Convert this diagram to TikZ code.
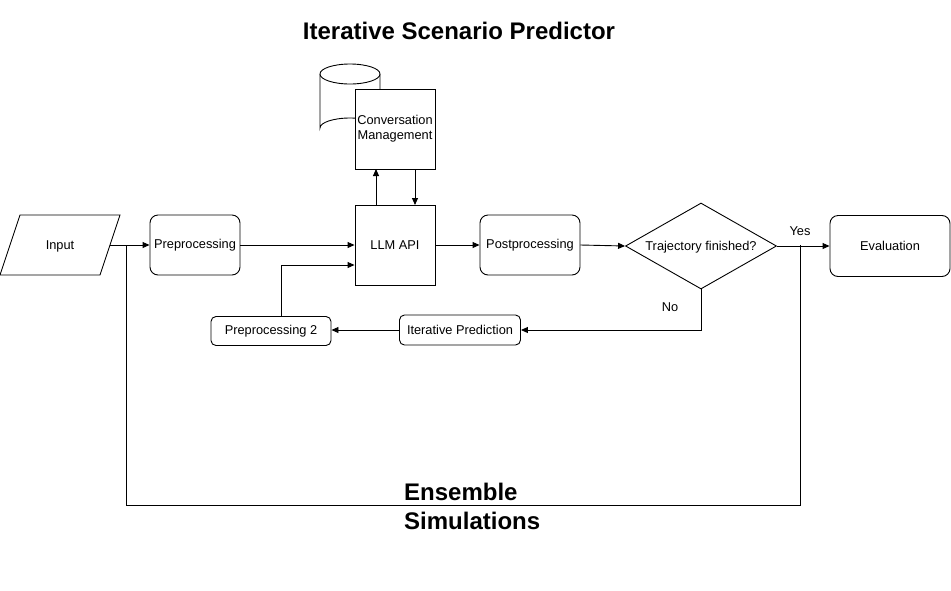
\documentclass[tikz,border=0pt]{standalone}
\usepackage{fontspec}
\setmainfont{Liberation Sans}
\usetikzlibrary{arrows.meta,shapes.geometric}
\begin{document}
\begin{tikzpicture}[x=1pt,y=-1pt,
  every node/.style={font=\fontsize{12.8}{15}\selectfont},
  box/.style={draw,line width=0.9pt,inner sep=0pt,align=center},
  rbox/.style={box,rounded corners=8pt},
  conn/.style={line width=0.9pt,-{Triangle[length=7pt,width=6pt]}},
  plain/.style={line width=0.9pt},
  big/.style={font=\fontsize{24}{29}\selectfont\bfseries}]
\useasboundingbox[fill=white] (0,0) rectangle (951,590);
\node[big] (title) at (459,31) {Iterative Scenario Predictor};
% input parallelogram
\draw[plain] (20,215) -- (120,215) -- (100,275) -- (0,275) -- cycle;
\node (input) at (60,246) {Input};
\coordinate (inR) at (110,245);
\node[rbox,minimum width=90pt,minimum height=60pt] (pre) at (195,245) {Preprocessing};
\node[box,minimum width=80pt,minimum height=80pt] (llm) at (395,245) {LLM API};
% cylinder
\draw[plain,fill=white] (320,74) -- (320,128) arc[start angle=180,end angle=360,x radius=30,y radius=10] -- (380,74);
\draw[plain,fill=white] (350,74) ellipse[x radius=30,y radius=10];
\node[box,fill=white,minimum width=80pt,minimum height=80pt] (conv) at (395,129) {Conversation\\Management};
\node[rbox,minimum width=100pt,minimum height=60pt] (post) at (530,245) {Postprocessing};
\node[diamond,draw,line width=0.9pt,aspect=1.75,minimum width=151pt,minimum height=86pt,inner sep=0pt] (dec) at (701,246) {};
\node at (701,247) {Trajectory finished?};
\node[rbox,minimum width=120pt,minimum height=61pt] (eval) at (890,246) {Evaluation};
\node[rbox,rounded corners=5pt,minimum width=121pt,minimum height=30pt] (iter) at (460,330) {Iterative Prediction};
\node[rbox,rounded corners=5pt,minimum width=120pt,minimum height=29pt] (pre2) at (271,331) {Preprocessing 2};
% connectors
\draw[conn] (inR) -- (pre.west);
\draw[conn] (pre.east) -- (llm.west);
\draw[conn] (376,205) -- (376,169);
\draw[conn] (415,169) -- (415,205);
\draw[conn] (llm.east) -- (post.west);
\draw[conn] (post.east) -- (dec.west);
\draw[conn] (dec.east) -- (eval.west |- dec.east);
\node (yes) at (800,231) {Yes};
\draw[conn] (dec.south) -- (701,330) -- (iter.east);
\node (no) at (670,307) {No};
\draw[conn] (iter.west) -- (pre2.east |- iter.west);
\draw[conn] (pre2.north -| 281,0) -- (281,265) -- (llm.west |- 0,265);
% ensemble loop
\coordinate (e1) at (126,245);
\coordinate (e2) at (800,245);
\draw[plain] (e1) -- (126,505) -- (800,505) -- (e2);
\node[big,anchor=base west,inner sep=0pt] (ens1) at (404,500) {Ensemble};
\node[big,anchor=base west,inner sep=0pt] (ens2) at (404,529) {Simulations};
\end{tikzpicture}
\end{document}
